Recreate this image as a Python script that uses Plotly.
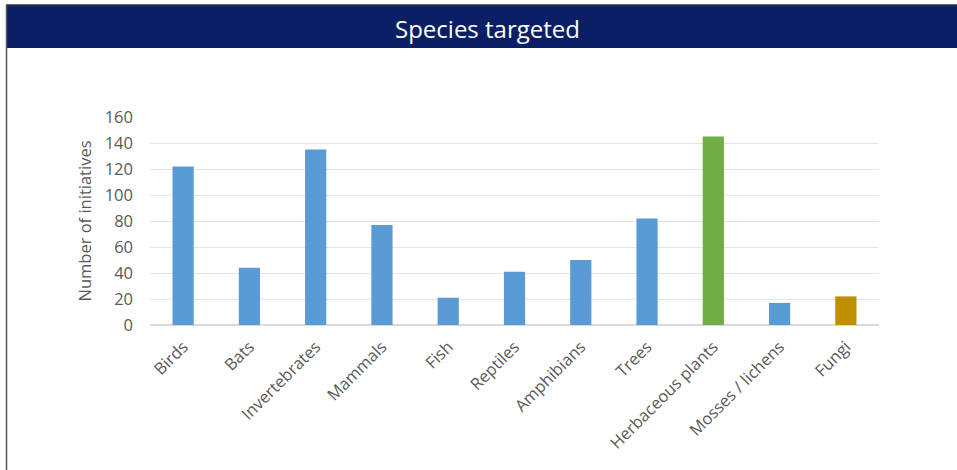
import plotly.graph_objects as go

# Species groups and number of initiatives targeting each
categories = ["Birds", "Bats", "Invertebrates", "Mammals", "Fish", "Reptiles",
              "Amphibians", "Trees", "Herbaceous plants", "Mosses / lichens", "Fungi"]
initiatives = [122, 44, 135, 77, 21, 41, 50, 82, 145, 17, 22]
bar_colors = ["#5B9BD5"] * 8 + ["#70AD47", "#5B9BD5", "#BF8F00"]

y_ticks = [0, 20, 40, 60, 80, 100, 120, 140, 160]

W, H = 957, 470
L, R, T, B = 150, 78, 117, 145
pw, ph = W - L - R, H - T - B


def px_x(x):
    return (x - L) / pw


def px_y(y):
    return (H - B - y) / ph


fig = go.Figure(go.Bar(
    x=categories, y=initiatives, marker_color=bar_colors,
    marker_line_width=0,
))

fig.update_layout(
    width=W, height=H,
    margin=dict(l=L, r=R, t=T, b=B),
    paper_bgcolor="white", plot_bgcolor="white",
    bargap=0.68, showlegend=False,
    font=dict(family="Open Sans, Lato, sans-serif", color="#595959"),
    xaxis=dict(tickangle=-45, tickfont=dict(size=16.5, color="#595959"),
               showline=False, ticks="", ticklabelstandoff=8),
    yaxis=dict(range=[0, 160], tickvals=y_ticks, showgrid=True,
               gridcolor="#E4E4E4", gridwidth=1, zeroline=True,
               zerolinecolor="#D9D9D9", tickfont=dict(size=16.5, color="#595959"),
               ticks="", ticklabelstandoff=16,
               title=dict(text="Number of initiatives", standoff=8,
                          font=dict(size=16.5, color="#595959"))),
    shapes=[
        # header band
        dict(type="rect", xref="paper", yref="paper",
             x0=px_x(6), x1=px_x(960), y0=px_y(48), y1=px_y(5),
             fillcolor="#0B1F66", line_width=0, layer="above"),
        dict(type="line", xref="paper", yref="paper",
             x0=px_x(6), x1=px_x(960), y0=px_y(5), y1=px_y(5),
             line=dict(color="#333333", width=1.5)),
        # left frame edge
        dict(type="line", xref="paper", yref="paper",
             x0=px_x(6.5), x1=px_x(6.5), y0=px_y(5), y1=px_y(470),
             line=dict(color="#555555", width=1.5)),
    ],
    annotations=[
        dict(text="Species targeted", xref="paper", yref="paper",
             x=px_x(487), y=px_y(28), showarrow=False,
             font=dict(size=24, color="white", family="Open Sans, sans-serif"),
             xanchor="center", yanchor="middle"),
    ],
)

fig.write_html("out.html")
